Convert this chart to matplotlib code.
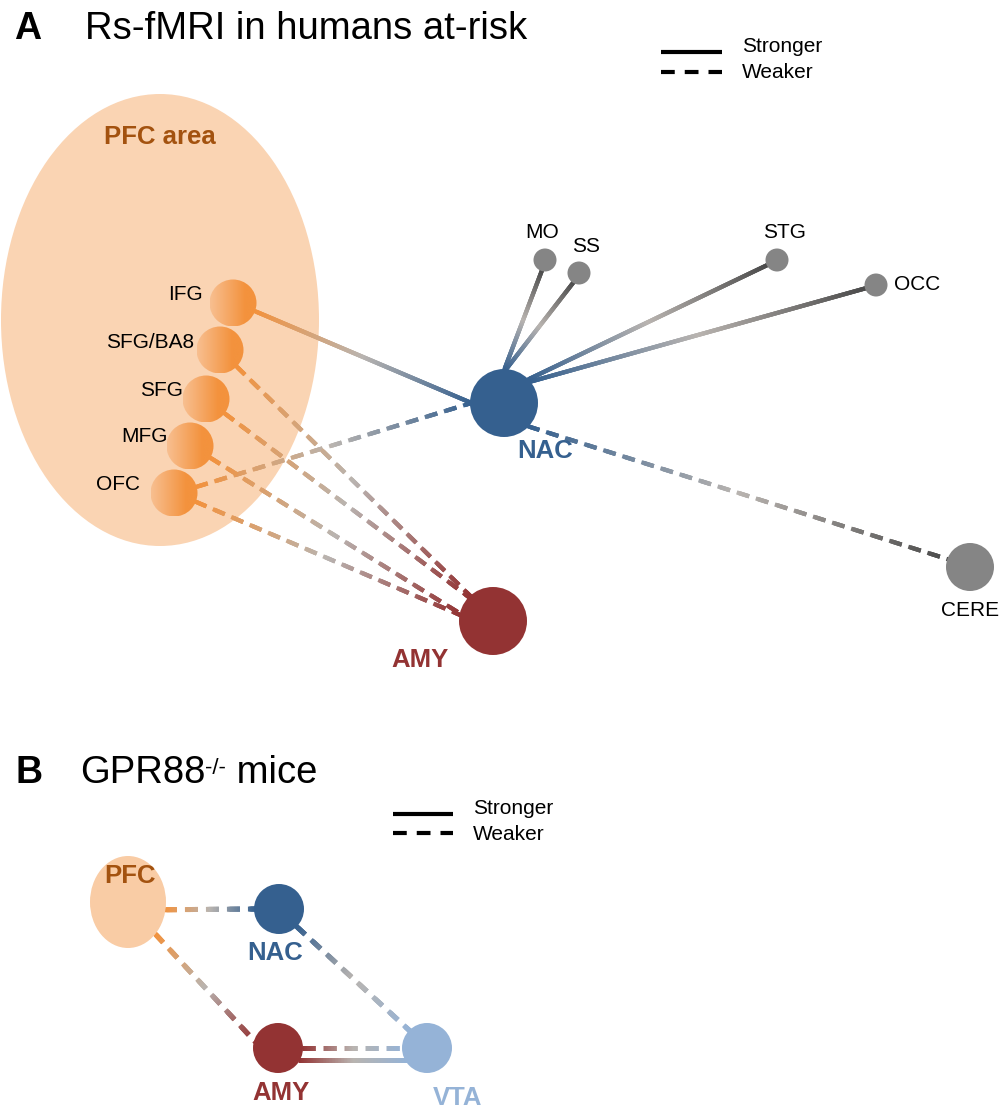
import numpy as np
import matplotlib.pyplot as plt
from matplotlib.patches import Circle, Ellipse
from matplotlib.collections import LineCollection
from matplotlib.colors import LinearSegmentedColormap

plt.rcParams['font.family'] = ['Liberation Sans', 'DejaVu Sans']

# ---- panel A: resting-state network in humans at risk ----
a_names = ['IFG', 'SFG/BA8', 'SFG', 'MFG', 'OFC', 'NAC', 'AMY', 'MO', 'SS', 'STG', 'OCC', 'CERE']
a_x = [233, 220, 206, 190, 174, 504, 493, 545, 579, 777, 876, 970]
a_y = [303, 350, 399, 446, 493, 403, 621, 260, 273, 260, 285, 567]
a_group = ['pfc', 'pfc', 'pfc', 'pfc', 'pfc', 'nac', 'amy', 'other', 'other', 'other', 'other', 'other']
a_edges = [
    ('IFG', 'NAC', 'stronger'),
    ('NAC', 'MO', 'stronger'),
    ('NAC', 'SS', 'stronger'),
    ('NAC', 'STG', 'stronger'),
    ('NAC', 'OCC', 'stronger'),
    ('OFC', 'NAC', 'weaker'),
    ('NAC', 'CERE', 'weaker'),
    ('SFG/BA8', 'AMY', 'weaker'),
    ('SFG', 'AMY', 'weaker'),
    ('MFG', 'AMY', 'weaker'),
    ('OFC', 'AMY', 'weaker'),
]

# ---- panel B: GPR88 knockout mice ----
b_names = ['PFC', 'NAC', 'AMY', 'VTA']
b_x = [128, 279, 278, 427]
b_y = [902, 909, 1048, 1048]
b_group = ['pfc', 'nac', 'amy', 'vta']
b_edges = [
    ('PFC', 'NAC', 'weaker'),
    ('PFC', 'AMY', 'weaker'),
    ('NAC', 'VTA', 'weaker'),
    ('AMY', 'VTA', 'weaker'),
    ('AMY', 'VTA', 'stronger'),
]

# node radii (px)
a_radius = {'IFG': 23.5, 'SFG/BA8': 23.5, 'SFG': 23.5, 'MFG': 23.5, 'OFC': 23.5,
            'NAC': 34, 'AMY': 34, 'MO': 11.5, 'SS': 11.5, 'STG': 11.5, 'OCC': 11.5, 'CERE': 24}
b_radius = {'PFC': (38, 46), 'NAC': 25, 'AMY': 25, 'VTA': 25}

# where a line leaves / enters a node (angle in degrees, 0 = right, 90 = up)
a_ports = {('IFG', 'NAC'): (None, 180), ('OFC', 'NAC'): (None, 180),
           ('NAC', 'MO'): (90, None), ('NAC', 'SS'): (88, None),
           ('NAC', 'STG'): (45, None), ('NAC', 'OCC'): (40, None),
           ('NAC', 'CERE'): (-45, None),
           ('SFG/BA8', 'AMY'): (None, 132), ('SFG', 'AMY'): (None, 135),
           ('MFG', 'AMY'): (None, 168), ('OFC', 'AMY'): (None, 170)}
b_ports = [(-10, 180), (-44, 165), (-45, 135), (0, 180), (-31, 211)]

fill = {'pfc': '#F3923D', 'nac': '#35608F', 'amy': '#933333', 'other': '#858585', 'vta': '#95B3D7'}
line_end = {'pfc': '#F3923D', 'nac': '#35608F', 'amy': '#933333', 'other': '#4A4A4A', 'vta': '#95B3D7'}
mid_grey = '#B9B4B0'
peach = '#FAD4B3'
brown = '#A3520F'


def port_point(c, r, ang, other):
    c = np.asarray(c, float)
    rx, ry = (r, r) if np.isscalar(r) else r
    if ang is None:
        d = np.asarray(other, float) - c
        d = d / np.hypot(*d)
        return c + d * (rx - 1.5)
    a = np.deg2rad(ang)
    return c + np.array([np.cos(a) * (rx - 1.5), -np.sin(a) * (ry - 1.5)])


def grad_line(ax, p0, p1, c0, c1, dashed, lw, dash=(13, 7), step=1.5):
    p0, p1 = np.asarray(p0, float), np.asarray(p1, float)
    L = np.hypot(*(p1 - p0))
    cmap = LinearSegmentedColormap.from_list('g', [c0, mid_grey, c1])
    if dashed:
        pieces = [(s, min(s + dash[0], L)) for s in np.arange(0, L, dash[0] + dash[1])]
    else:
        pieces = [(0, L)]
    segs, cols = [], []
    for a, b in pieces:
        n = max(1, int(np.ceil((b - a) / step)))
        cuts = np.linspace(a, b, n + 1)
        for u, v in zip(cuts[:-1], cuts[1:]):
            # overlap neighbouring pieces so no seams show between them
            segs.append([p0 + (p1 - p0) * u / L, p0 + (p1 - p0) * min(v + 2 * step, b) / L])
            cols.append(cmap(0.5 * (u + v) / L))
    ax.add_collection(LineCollection(segs, colors=cols, linewidths=lw, capstyle='butt', zorder=2))


def gradient_disc(ax, x, y, r, light, dark):
    cmap = LinearSegmentedColormap.from_list('d', [(0, light), (0.75, dark), (1, dark)])
    img = cmap(np.linspace(0, 1, 120))[None, :, :]
    im = ax.imshow(img, extent=(x - r, x + r, y + r, y - r), zorder=3, interpolation='bilinear')
    disc = Circle((x, y), r, facecolor='none', edgecolor='none', zorder=3)
    ax.add_patch(disc)
    im.set_clip_path(disc)


def legend(ax, x0, x1, y_solid, y_dash, tx, fs):
    ax.plot([x0, x1], [y_solid, y_solid], color='black', lw=3, solid_capstyle='butt')
    ax.plot([x0, x1], [y_dash, y_dash], color='black', lw=3, dashes=(3.3, 2.4), dash_capstyle='butt')
    ax.text(tx, y_solid - 6, 'Stronger', fontsize=fs, va='center', ha='left')
    ax.text(tx, y_dash + 1, 'Weaker', fontsize=fs, va='center', ha='left')


fig = plt.figure(figsize=(10, 11.1), dpi=100)
ax = fig.add_axes([0, 0, 1, 1])

# ---- panel A ----
ax.text(14, 39, 'A', fontsize=27, fontweight='bold', va='baseline')
ax.text(85, 39, 'Rs-fMRI in humans at-risk', fontsize=27.5, va='baseline')
legend(ax, 661, 722, 52, 72, 742, 15)

ax.add_patch(Ellipse((160, 320), 318, 452, facecolor=peach, edgecolor='none', zorder=0))
ax.text(160, 137, 'PFC area', fontsize=18.5, fontweight='bold', color=brown, ha='center', va='center')

pos_a = {n: (x, y) for n, x, y in zip(a_names, a_x, a_y)}
grp_a = dict(zip(a_names, a_group))
for s, t, kind in a_edges:
    ps, pt = a_ports.get((s, t), (None, None))
    p0 = port_point(pos_a[s], a_radius[s], ps, pos_a[t])
    p1 = port_point(pos_a[t], a_radius[t], pt, pos_a[s])
    grad_line(ax, p0, p1, line_end[grp_a[s]], line_end[grp_a[t]], kind == 'weaker', 3.0)

for n in a_names:
    x, y = pos_a[n]
    g = grp_a[n]
    if g == 'pfc':
        gradient_disc(ax, x, y, a_radius[n], '#F8BF90', fill['pfc'])
    else:
        ax.add_patch(Circle((x, y), a_radius[n], facecolor=fill[g], edgecolor='none', zorder=3))

a_labels = {'IFG': (-30, -8, 'right'), 'SFG/BA8': (-26, -8, 'right'), 'SFG': (-23, -9, 'right'),
            'MFG': (-22.5, -9, 'right'), 'OFC': (-34, -9, 'right'), 'MO': (-2.5, -28, 'center'),
            'SS': (7.5, -27, 'center'), 'STG': (7, -28, 'center'), 'OCC': (18, -1, 'left'),
            'CERE': (0, 44, 'center')}
for n, (dx, dy, ha) in a_labels.items():
    x, y = pos_a[n]
    ax.text(x + dx, y + dy, n, fontsize=15, ha=ha, va='center', zorder=4)
ax.text(pos_a['NAC'][0] + 41, pos_a['NAC'][1] + 48, 'NAC', fontsize=18.5, fontweight='bold',
        color=fill['nac'], ha='center', va='center', zorder=4)
ax.text(pos_a['AMY'][0] - 73, pos_a['AMY'][1] + 39, 'AMY', fontsize=18.5, fontweight='bold',
        color=fill['amy'], ha='center', va='center', zorder=4)

# ---- panel B ----
ax.text(15, 783, 'B', fontsize=27, fontweight='bold', va='baseline')
t1 = ax.text(80, 783, 'GPR88', fontsize=27.5, va='baseline')
t2 = ax.annotate('-/-', xy=(1, 0.93), xycoords=t1, fontsize=16, va='top', ha='left')
ax.annotate(' mice', xy=(1, 0), xycoords=(t2, t1), fontsize=27.5, va='bottom', ha='left')
legend(ax, 393, 453, 814, 833, 473, 15)

pos_b = {n: (x, y) for n, x, y in zip(b_names, b_x, b_y)}
grp_b = dict(zip(b_names, b_group))
for (s, t, kind), (ps, pt) in zip(b_edges, b_ports):
    p0 = port_point(pos_b[s], b_radius[s], ps, pos_b[t])
    p1 = port_point(pos_b[t], b_radius[t], pt, pos_b[s])
    grad_line(ax, p0, p1, line_end[grp_b[s]], line_end[grp_b[t]], kind == 'weaker', 3.6, dash=(13, 8))

for n in b_names:
    x, y = pos_b[n]
    if n == 'PFC':
        rx, ry = b_radius[n]
        ax.add_patch(Ellipse((x, y), 2 * rx, 2 * ry, facecolor='#F9CCA5', edgecolor='none', zorder=3))
    else:
        ax.add_patch(Circle((x, y), b_radius[n], facecolor=fill[grp_b[n]], edgecolor='none', zorder=3))

b_labels = {'PFC': (2, -26, brown), 'NAC': (-4, 44, fill['nac']),
            'AMY': (3, 45, fill['amy']), 'VTA': (31, 50, fill['vta'])}
for n, (dx, dy, col) in b_labels.items():
    x, y = pos_b[n]
    ax.text(x + dx, y + dy, n, fontsize=18.5, fontweight='bold', color=col,
            ha='center', va='center', zorder=4)

ax.set_xlim(0, 1000)
ax.set_ylim(1110, 0)
ax.set_aspect('auto')
ax.axis('off')
fig.savefig('out.png', dpi=100, facecolor='white')
